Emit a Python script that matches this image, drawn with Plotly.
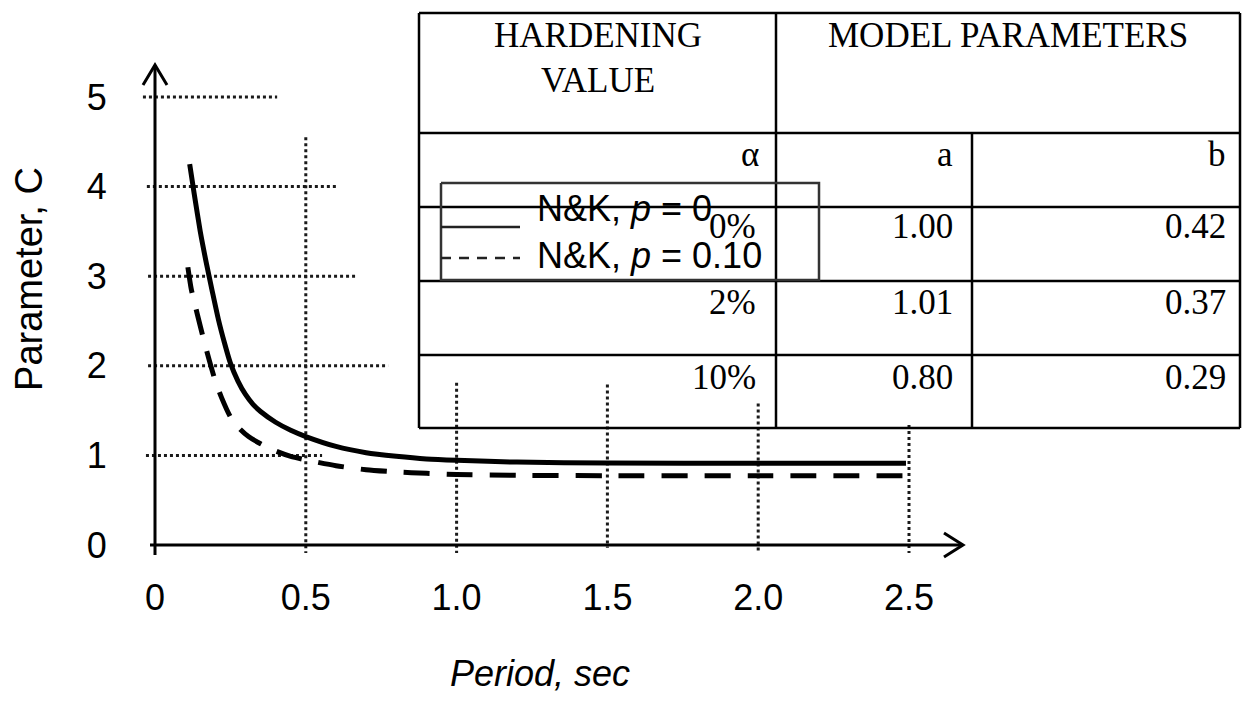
import plotly.graph_objects as go

# ---------------- data ----------------
period_p0 = [0.115, 0.13, 0.15, 0.17, 0.19, 0.21, 0.23, 0.25, 0.275, 0.30, 0.325, 0.35, 0.40, 0.45,
             0.50, 0.60, 0.70, 0.80, 0.90, 1.00, 1.20, 1.50, 2.00, 2.49]
c_p0 = [4.25, 3.92, 3.50, 3.15, 2.83, 2.52, 2.26, 2.03, 1.83, 1.68, 1.57, 1.49, 1.37, 1.28,
        1.21, 1.10, 1.03, 0.99, 0.96, 0.945, 0.925, 0.915, 0.912, 0.912]

period_p10 = [0.109, 0.12, 0.14, 0.16, 0.18, 0.20, 0.22, 0.25, 0.28, 0.31, 0.35, 0.40, 0.45, 0.50,
              0.60, 0.70, 0.80, 0.90, 1.00, 1.20, 1.50, 2.00, 2.49]
c_p10 = [3.10, 2.86, 2.58, 2.31, 2.06, 1.83, 1.65, 1.43, 1.30, 1.21, 1.13, 1.05, 0.99, 0.95,
         0.885, 0.84, 0.815, 0.80, 0.787, 0.778, 0.774, 0.774, 0.774]

series_names = ["N&K, <i>p</i> = 0", "N&K, <i>p</i> = 0.10"]

x_tick_vals = [0, 0.5, 1.0, 1.5, 2.0, 2.5]
x_tick_text = ["0", "0.5", "1.0", "1.5", "2.0", "2.5"]
y_tick_vals = [0, 1, 2, 3, 4, 5]
y_tick_text = ["0", "1", "2", "3", "4", "5"]

# partial dotted gridlines: (value, start, end)
grid_h = [(5, -0.040, 0.405), (4, -0.027, 0.603), (3, -0.023, 0.670), (2, -0.023, 0.773), (1, -0.030, 0.554)]
grid_v = [(0.5, 4.55, -0.09), (1.0, 1.81, -0.09), (1.5, 1.79, -0.03), (2.0, 1.58, -0.09), (2.5, 1.34, -0.09)]

# table content
header_left = ["HARDENING", "VALUE"]
header_right = "MODEL PARAMETERS"
sub_header = ["\u03b1", "a", "b"]
hardening = ["0%", "2%", "10%"]
param_a = ["1.00", "1.01", "0.80"]
param_b = ["0.42", "0.37", "0.29"]

# ---------------- layout geometry ----------------
PAGE_OFF = 8                               # default body margin of the page
W, H = 1242, 686
PL, PR, PT, PB = 87, 977, 0, 542           # plot area in figure pixels
PW, PH = PR - PL, PB - PT
X_ORIGIN, X_SCALE = 155 - PAGE_OFF, 301.6  # figure px of x=0, px per unit
Y_ORIGIN, Y_SCALE = 545 - PAGE_OFF, 89.6
X0 = -(X_ORIGIN - PL) / X_SCALE
X1 = X0 + PW / X_SCALE
Y0 = -(PB - Y_ORIGIN) / Y_SCALE
Y1 = Y0 + PH / Y_SCALE


def pxp(sx):          # screen px -> paper x
    return (sx - PAGE_OFF - PL) / PW


def pyp(sy):          # screen px -> paper y
    return (PB - (sy - PAGE_OFF)) / PH


def x2p(x):           # data x -> paper x (same linear scale as the axis)
    return (x - X0) / (X1 - X0)


def y2p(y):
    return (y - Y0) / (Y1 - Y0)


SANS = "Liberation Sans, Arial, sans-serif"
SERIF = "Liberation Serif, Times New Roman, serif"

fig = go.Figure()
fig.add_trace(go.Scatter(x=period_p0, y=c_p0, mode="lines", name=series_names[0],
                         line=dict(color="black", width=5, shape="spline", smoothing=0.6),
                         showlegend=False))
fig.add_trace(go.Scatter(x=period_p10, y=c_p10, mode="lines", name=series_names[1],
                         line=dict(color="black", width=5, dash="26px,17px", shape="spline", smoothing=0.6),
                         showlegend=False))

shapes = []
grid_line = dict(color="#1a1a1a", width=3, dash="3px,3px")
for yv, xs, xe in grid_h:
    shapes.append(dict(type="line", xref="paper", yref="paper", x0=x2p(xs), x1=x2p(xe),
                       y0=y2p(yv), y1=y2p(yv), line=grid_line, layer="below"))
for xv, ys, ye in grid_v:
    shapes.append(dict(type="line", xref="paper", yref="paper", x0=x2p(xv), x1=x2p(xv),
                       y0=y2p(ys), y1=y2p(ye), line=grid_line, layer="below"))

# axes with open arrow heads (screen px geometry)
axis_line = dict(color="black", width=3)


def spath(points, line):
    d = "M" + " L".join(f"{pxp(a)},{pyp(b)}" for a, b in points)
    shapes.append(dict(type="path", xref="paper", yref="paper", path=d, line=line, layer="above"))


spath([(150, 545), (963, 545)], axis_line)
spath([(155, 555), (155, 65)], axis_line)
spath([(944, 533), (963, 545), (944, 557)], axis_line)
spath([(143, 85), (155, 65), (167, 85)], axis_line)

# ---------------- table ----------------
T_L, T_R, T_T = 419, 1240, 13
COL1, COL2 = 776, 972
ROWS = [133, 207, 281, 355, 428]
tline = dict(color="black", width=2.5)

spath([(T_L, T_T), (T_R, T_T)], tline)
for r in ROWS:
    spath([(T_L, r), (T_R, r)], tline)
spath([(T_L, T_T), (T_L, ROWS[-1])], tline)
spath([(T_R, T_T), (T_R, ROWS[-1])], tline)
spath([(COL1, T_T), (COL1, ROWS[-1])], tline)
spath([(COL2, ROWS[0]), (COL2, ROWS[-1])], tline)

annotations = []


def ptext(text, sx, sy, xanchor, family, size):
    annotations.append(dict(text=text, x=pxp(sx), y=pyp(sy), xref="paper", yref="paper",
                            xanchor=xanchor, yanchor="middle", showarrow=False,
                            font=dict(family=family, size=size, color="black")))


TS = 35
ptext(header_left[0], 598, 36, "center", SERIF, TS)
ptext(header_left[1], 598, 81, "center", SERIF, TS)
ptext(header_right, 1008, 36, "center", SERIF, TS)
for txt, xr in zip(sub_header, [761, 955, 1228]):
    ptext(txt, xr, 154, "right", SERIF, TS)
for i, cy in enumerate([227, 302, 377]):
    ptext(hardening[i], 758, cy, "right", SERIF, TS)
    ptext(param_a[i], 955, cy, "right", SERIF, TS)
    ptext(param_b[i], 1228, cy, "right", SERIF, TS)

# ---------------- legend (drawn over the table) ----------------
lg = dict(color="#333333", width=2.5)
spath([(441, 183), (819, 183), (819, 280), (441, 280), (441, 183)], lg)
spath([(441, 227), (520, 227)], dict(color="#222222", width=2.5))
spath([(441, 258), (520, 258)], dict(color="#222222", width=2.5, dash="10px,8px"))
ptext(series_names[0], 535, 209, "left", SANS, 36)
ptext(series_names[1], 535, 255, "left", SANS, 36)

fig.update_layout(
    width=W, height=H,
    margin=dict(l=PL, r=W - PR, t=PT, b=H - PB, autoexpand=False),
    paper_bgcolor="white", plot_bgcolor="white",
    showlegend=False,
    shapes=shapes, annotations=annotations,
    xaxis=dict(range=[X0, X1], domain=[0, 1], anchor="free", position=pyp(545),
               showgrid=False, zeroline=False, showline=False,
               tickvals=x_tick_vals, ticktext=x_tick_text,
               ticks="outside", ticklen=1, tickcolor="rgba(0,0,0,0)", ticklabelstandoff=20,
               tickfont=dict(family=SANS, size=36, color="black"),
               title=dict(text="Period, sec", standoff=50,
                          font=dict(family=SANS, size=36, color="black", style="italic")),
               automargin=False),
    yaxis=dict(range=[Y0, Y1], domain=[0, 1], anchor="free", position=pxp(155),
               showgrid=False, zeroline=False, showline=False,
               tickvals=y_tick_vals, ticktext=y_tick_text,
               ticks="outside", ticklen=1, tickcolor="rgba(0,0,0,0)", ticklabelstandoff=40,
               tickfont=dict(family=SANS, size=36, color="black"),
               title=dict(text="Parameter, C", standoff=33,
                          font=dict(family=SANS, size=38, color="black")),
               automargin=False),
)

fig.write_html("out.html")
